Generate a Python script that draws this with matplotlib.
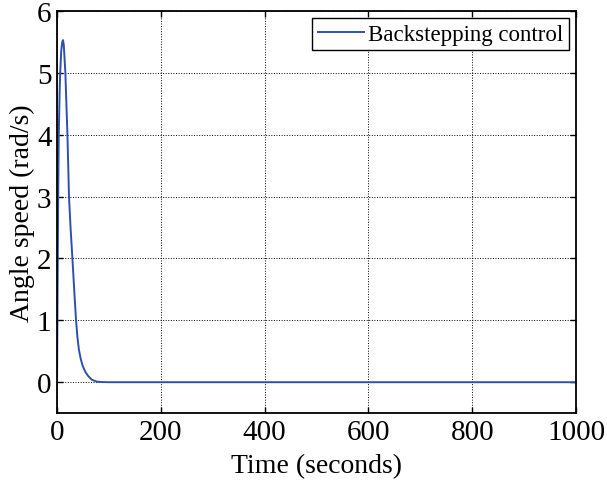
import matplotlib
matplotlib.use("Agg")
import matplotlib.pyplot as plt

plt.rcParams["font.family"] = ["Liberation Serif", "DejaVu Serif"]

# angle speed response
time = [0, 1, 2, 3.3, 5, 6, 8, 10, 11.5, 13, 15, 16, 18, 20, 23, 26, 29.6, 33, 36.6,
        39, 42, 45.5, 49.5, 55, 60, 67, 76, 85, 100, 1000]
speed = [0, 1.5, 2.8, 4.0, 4.7, 5.0, 5.35, 5.5, 5.53, 5.45, 5.15, 5.0, 4.5, 4.0, 3.0, 2.5,
         2.0, 1.5, 1.0, 0.75, 0.53, 0.38, 0.26, 0.16, 0.1, 0.04, 0.01, 0.003, 0, 0]

fig = plt.figure(figsize=(6.07, 4.81), dpi=100)
ax = fig.add_axes([0.094, 0.139, 0.855, 0.836])

ax.plot(time, speed, color="#2f4fb0", linewidth=1.4, label="Backstepping control")

ax.set_xlim(0, 1000)
ax.set_ylim(-0.5, 6)
ax.set_xticks([0, 200, 400, 600, 800, 1000])
ax.set_yticks([0, 1, 2, 3, 4, 5, 6])
ax.grid(True, color="black", linestyle=":", linewidth=0.7)
ax.tick_params(direction="in", labelsize=21, length=4, width=1, top=True, right=True, pad=4)
for s in ax.spines.values():
    s.set_linewidth(1.3)

ax.set_xlabel("Time (seconds)", fontsize=20, labelpad=6)
ax.set_ylabel("Angle speed (rad/s)", fontsize=20, labelpad=1)

leg = ax.legend(loc="upper right", fontsize=16.5, fancybox=False, framealpha=1,
                edgecolor="black", borderpad=0.25, handlelength=2.0,
                handletextpad=0.2, borderaxespad=0.3)
leg.get_frame().set_linewidth(1.0)

fig.savefig("out.png", dpi=100)
